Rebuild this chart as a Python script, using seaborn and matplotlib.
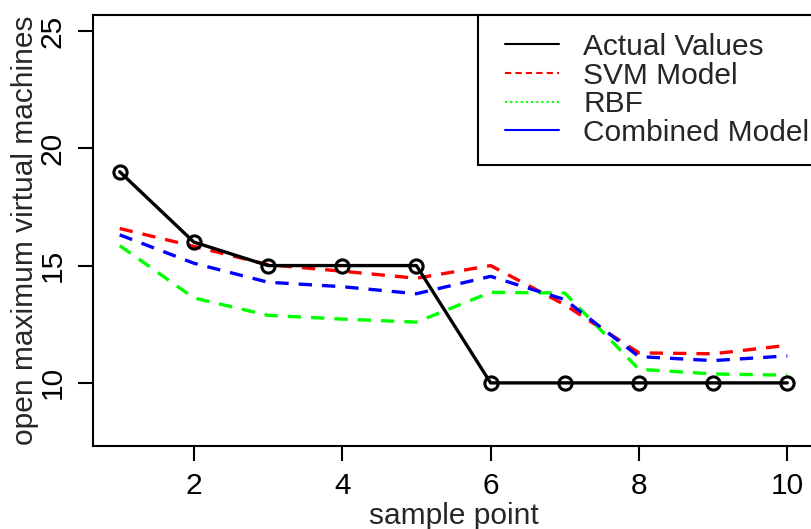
import matplotlib
matplotlib.use("Agg")
import matplotlib.pyplot as plt
import seaborn as sns
import pandas as pd
from matplotlib.lines import Line2D
from matplotlib.legend_handler import HandlerLine2D

sample_points = [1, 2, 3, 4, 5, 6, 7, 8, 9, 10]
actual_values = [19, 16, 15, 15, 15, 10, 10, 10, 10, 10]
svm_model = [16.58, 15.82, 15.04, 14.76, 14.46, 15.0, 13.33, 11.28, 11.24, 11.6]
rbf_model = [15.85, 13.62, 12.88, 12.72, 12.59, 13.86, 13.83, 10.58, 10.38, 10.33]
combined_model = [16.31, 15.1, 14.29, 14.1, 13.8, 14.54, 13.55, 11.12, 10.95, 11.15]
legend_labels = ["Actual Values", "SVM Model", "RBF", "Combined Model"]
x_ticks = [2, 4, 6, 8, 10]
y_ticks = [10, 15, 20, 25]

sns.set_style("ticks")
plt.rcParams["font.family"] = ["Liberation Sans", "DejaVu Sans"]
FS = 21.5

df = pd.DataFrame({"x": sample_points, "actual": actual_values, "svm": svm_model,
                   "rbf": rbf_model, "comb": combined_model})

fig = plt.figure(figsize=(8.12, 5.29), dpi=100)
ax = fig.add_axes([93/812, 1-446/529, (814-93)/812, (446-15)/529])

sns.lineplot(data=df, x="x", y="svm", ax=ax, color="red", lw=2.4, linestyle=(0, (4, 3)))
sns.lineplot(data=df, x="x", y="rbf", ax=ax, color="#00ff00", lw=2.4, linestyle=(0, (4, 3)))
sns.lineplot(data=df, x="x", y="comb", ax=ax, color="blue", lw=2.4, linestyle=(0, (4, 3)))
sns.lineplot(data=df, x="x", y="actual", ax=ax, color="black", lw=2.4, marker="o",
             markersize=9.5, markerfacecolor="none", markeredgecolor="black",
             markeredgewidth=2.2)

ax.set_xlim(0.64, 10.36)
ax.set_ylim(7.31, 25.68)
ax.set_xticks(x_ticks)
ax.set_xticklabels([str(t) for t in x_ticks], fontsize=FS)
ax.set_yticks(y_ticks)
ax.set_yticklabels([str(t) for t in y_ticks], fontsize=FS, rotation=90, va="center")
ax.tick_params(axis="both", direction="out", length=10.5, width=1.5, colors="black", pad=8.5)
for s in ax.spines.values():
    s.set_visible(True)
    s.set_linewidth(1.5)
    s.set_color("black")
ax.set_xlabel("sample point", fontsize=FS, labelpad=1)
ax.set_ylabel("open maximum virtual machines", fontsize=FS, labelpad=0)

handles = [
    Line2D([], [], color="black", lw=1.5),
    Line2D([], [], color="red", lw=1.5, linestyle=(0, (3, 2))),
    Line2D([], [], color="#00ff00", lw=1.5, linestyle=(0, (1, 1.5))),
    Line2D([], [], color="blue", lw=1.5),
]
hmap = {h: HandlerLine2D(xpad=0.3) for h in handles}
leg = ax.legend(handles, legend_labels, loc="upper left", bbox_to_anchor=(0.534, 1.0),
                fontsize=FS, frameon=True, fancybox=False, borderaxespad=0,
                handlelength=2.1, handletextpad=0.83, labelspacing=0.02,
                borderpad=0.6, handler_map=hmap)
leg.get_frame().set_edgecolor("black")
leg.get_frame().set_linewidth(1.5)
leg.get_frame().set_alpha(1)

fig.savefig("out.png", dpi=100)
